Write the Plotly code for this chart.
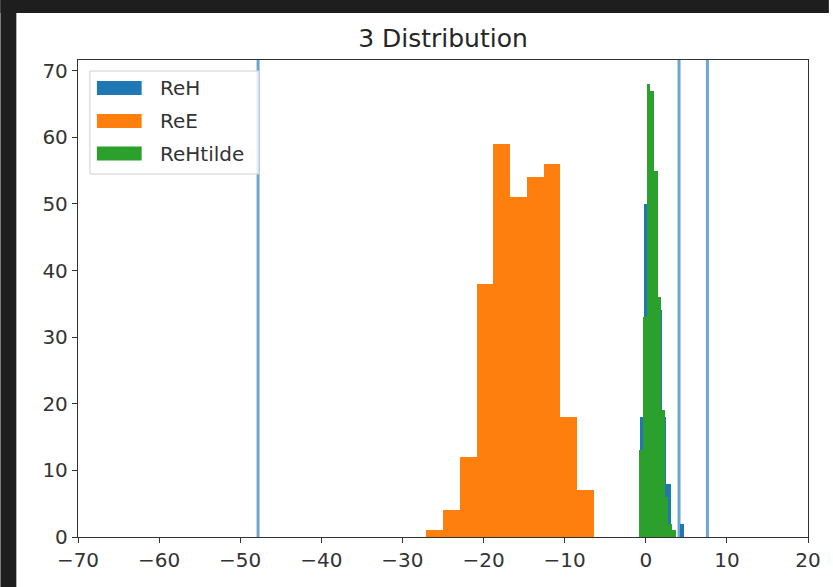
import plotly.graph_objects as go

# ---------------- data ----------------
series_names = ["ReH", "ReE", "ReHtilde"]
series_colors = ["#1f77b4", "#ff7f0e", "#2ca02c"]

reh_bin_edges = [-0.70, -0.16, 0.38, 0.92, 1.46, 2.00, 2.54, 3.08, 3.62, 4.16, 4.70]
reh_counts = [18, 50, 64, 54, 34, 18, 8, 1, 0, 2]

ree_bin_edges = [-27.05, -24.99, -22.92, -20.86, -18.79, -16.73, -14.66, -12.60, -10.53, -8.47, -6.40]
ree_counts = [1, 4, 12, 38, 59, 51, 54, 56, 18, 7]

reht_bin_edges = [-0.80, -0.35, 0.10, 0.55, 1.00, 1.45, 1.90, 2.35, 2.80, 3.25, 3.70]
reht_counts = [13, 33, 68, 67, 55, 36, 19, 6, 2, 1]

reh_vlines = [-47.8, 4.1, 7.6]

x_ticks = [-70, -60, -50, -40, -30, -20, -10, 0, 10, 20]
y_ticks = [0, 10, 20, 30, 40, 50, 60, 70]
title_text = "3 Distribution"

# ---------------- layout geometry ----------------
W, H = 833, 587
L, R, T, B = 78, 21, 60, 50
PW, PH = W - L - R, H - T - B
FONT = "DejaVu Sans"


def px_x(px):
    return (px - L) / PW


def px_y(py):
    return (H - B - py) / PH


def hist_bar(edges, counts, name, color):
    centers = [(a + b) / 2 for a, b in zip(edges[:-1], edges[1:])]
    widths = [b - a for a, b in zip(edges[:-1], edges[1:])]
    return go.Bar(x=centers, y=counts, width=widths, name=name,
                  marker=dict(color=color, line=dict(width=0)),
                  showlegend=False)


fig = go.Figure()
fig.add_trace(hist_bar(reh_bin_edges, reh_counts, series_names[0], series_colors[0]))
fig.add_trace(hist_bar(ree_bin_edges, ree_counts, series_names[1], series_colors[1]))
fig.add_trace(hist_bar(reht_bin_edges, reht_counts, series_names[2], series_colors[2]))

shapes = []
for xv in reh_vlines:
    shapes.append(dict(type="line", xref="x", yref="paper", x0=xv, x1=xv, y0=0, y1=1,
                       line=dict(color="rgba(31,119,180,0.65)", width=3), layer="above"))

# dark screenshot frame (top and left)
shapes.append(dict(type="rect", xref="paper", yref="paper",
                   x0=px_x(0), x1=px_x(W), y0=px_y(13), y1=px_y(0),
                   fillcolor="#1e1e1e", line=dict(width=0), layer="above"))
shapes.append(dict(type="rect", xref="paper", yref="paper",
                   x0=px_x(0), x1=px_x(16), y0=px_y(H), y1=px_y(0),
                   fillcolor="#1e1e1e", line=dict(width=0), layer="above"))

# legend frame
shapes.append(dict(type="rect", xref="paper", yref="paper",
                   x0=px_x(90), x1=px_x(260), y0=px_y(174), y1=px_y(71),
                   fillcolor="rgba(255,255,255,0.8)", line=dict(color="#d0d0d0", width=1),
                   layer="above"))
annotations = []
row_centers = [88, 121, 153.5]
for name, color, cy in zip(series_names, series_colors, row_centers):
    shapes.append(dict(type="rect", xref="paper", yref="paper",
                       x0=px_x(97), x1=px_x(142), y0=px_y(cy + 7), y1=px_y(cy - 7),
                       fillcolor=color, line=dict(width=0), layer="above"))
    annotations.append(dict(xref="paper", yref="paper", x=px_x(158), y=px_y(cy),
                            text=name, showarrow=False, xanchor="left", yanchor="middle",
                            font=dict(family=FONT, size=20, color="#333333")))

fig.update_layout(
    width=W, height=H,
    margin=dict(l=L, r=R, t=T, b=B),
    paper_bgcolor="white", plot_bgcolor="white",
    barmode="overlay", bargap=0,
    showlegend=False,
    title=dict(text=title_text, x=px_x(445), xref="paper", xanchor="center",
               y=1 - 38 / H, yref="container", yanchor="middle",
               font=dict(family=FONT, size=25, color="#262626")),
    shapes=shapes, annotations=annotations,
    font=dict(family=FONT, size=20, color="#333333"),
)
axis_common = dict(showgrid=False, zeroline=False, showline=True, linecolor="#333333",
                   linewidth=1.3, mirror=True, ticks="outside", ticklen=5, tickwidth=1.3,
                   tickcolor="#333333", tickfont=dict(family=FONT, size=20, color="#333333"))
fig.update_xaxes(range=[-70, 20], tickvals=x_ticks,
                 ticktext=[str(v).replace("-", "\u2212") for v in x_ticks], **axis_common)
fig.update_yaxes(range=[0, 71.6], tickvals=y_ticks, **axis_common)

fig.write_html("out.html",
               config={"displayModeBar": False},
               post_script="document.body.style.margin='0';document.body.style.padding='0';"
                           "document.body.style.overflow='hidden';")
